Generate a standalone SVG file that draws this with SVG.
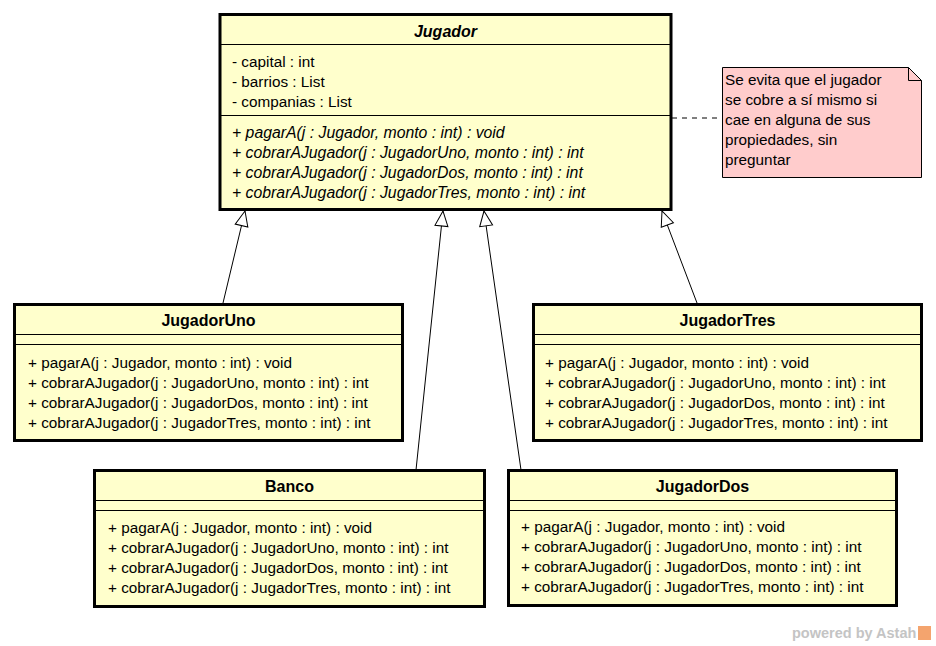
<svg xmlns="http://www.w3.org/2000/svg" width="936" height="646" viewBox="0 0 936 646">
  <defs>
    <style>
      .cls { fill: #FFFFCC; stroke: #000; stroke-width: 3; }
      .sep { stroke: #000; stroke-width: 1; }
      .title { font-family: "Liberation Sans", Arial, sans-serif; font-size: 16px; font-weight: bold; fill: #000; text-anchor: middle; }
      .abs { font-style: italic; }
      .txt { font-family: "Liberation Sans", Arial, sans-serif; font-size: 15.3px; fill: #000; }
      .it { font-style: italic; font-size: 15.8px; }
      .edge { stroke: #000; stroke-width: 1; fill: none; }
      .note { fill: #FFCCCC; stroke: #000; stroke-width: 1; }
    </style>
    <marker id="gen" viewBox="-17 -8 18 16" refX="0" refY="0" markerWidth="18" markerHeight="16" markerUnits="userSpaceOnUse" orient="auto">
      <path d="M0,0 L-15,-6.5 L-15,6.5 Z" fill="#fff" stroke="#000" stroke-width="1"/>
    </marker>
  </defs>

  <rect width="936" height="646" fill="#fff"/>

  <!-- connectors: generalizations and note anchor -->
  <g id="connectors">
    <line class="edge" x1="223" y1="303" x2="245" y2="211" marker-end="url(#gen)"/>
    <line class="edge" x1="416" y1="470" x2="443" y2="211" marker-end="url(#gen)"/>
    <line class="edge" x1="521" y1="470" x2="484" y2="211" marker-end="url(#gen)"/>
    <line class="edge" x1="697" y1="303" x2="662" y2="211" marker-end="url(#gen)"/>
    <line class="edge" x1="672" y1="118" x2="722" y2="118" stroke-dasharray="5,5"/>
  </g>

  <!-- abstract base class -->
  <g id="Jugador">
    <rect class="cls" x="220" y="14.5" width="451" height="195"/>
    <line class="sep" x1="220" y1="44.5" x2="671" y2="44.5"/>
    <line class="sep" x1="220" y1="115.5" x2="671" y2="115.5"/>
    <text class="title abs" x="445.5" y="37">Jugador</text>
    <text class="txt" x="232" y="67">- capital : int</text>
    <text class="txt" x="232" y="87">- barrios : List</text>
    <text class="txt" x="232" y="107">- companias : List</text>
    <text class="txt it" x="232" y="138">+ pagarA(j : Jugador, monto : int) : void</text>
    <text class="txt it" x="232" y="158">+ cobrarAJugador(j : JugadorUno, monto : int) : int</text>
    <text class="txt it" x="232" y="178">+ cobrarAJugador(j : JugadorDos, monto : int) : int</text>
    <text class="txt it" x="232" y="198">+ cobrarAJugador(j : JugadorTres, monto : int) : int</text>
  </g>

  <g id="nota">
    <path class="note" d="M722.5,67.5 L908.5,67.5 L921.5,80.5 L921.5,177.5 L722.5,177.5 Z"/>
    <path class="edge" d="M908.5,67.5 L908.5,80.5 L921.5,80.5"/>
    <text class="txt" x="725" y="85">Se evita que el jugador</text>
    <text class="txt" x="725" y="105">se cobre a sí mismo si</text>
    <text class="txt" x="725" y="125">cae en alguna de sus</text>
    <text class="txt" x="725" y="145">propiedades, sin</text>
    <text class="txt" x="725" y="165">preguntar</text>
  </g>

  <g id="JugadorUno">
    <rect class="cls" x="14.5" y="304.5" width="388" height="136"/>
    <line class="sep" x1="14.5" y1="334.5" x2="402.5" y2="334.5"/>
    <line class="sep" x1="14.5" y1="344.5" x2="402.5" y2="344.5"/>
    <text class="title" x="208.5" y="326">JugadorUno</text>
    <text class="txt" x="28" y="368">+ pagarA(j : Jugador, monto : int) : void</text>
    <text class="txt" x="28" y="388">+ cobrarAJugador(j : JugadorUno, monto : int) : int</text>
    <text class="txt" x="28" y="408">+ cobrarAJugador(j : JugadorDos, monto : int) : int</text>
    <text class="txt" x="28" y="428">+ cobrarAJugador(j : JugadorTres, monto : int) : int</text>
  </g>

  <g id="JugadorTres">
    <rect class="cls" x="533.5" y="304.5" width="388" height="136"/>
    <line class="sep" x1="533.5" y1="334.5" x2="921.5" y2="334.5"/>
    <line class="sep" x1="533.5" y1="344.5" x2="921.5" y2="344.5"/>
    <text class="title" x="727.5" y="326">JugadorTres</text>
    <text class="txt" x="545" y="368">+ pagarA(j : Jugador, monto : int) : void</text>
    <text class="txt" x="545" y="388">+ cobrarAJugador(j : JugadorUno, monto : int) : int</text>
    <text class="txt" x="545" y="408">+ cobrarAJugador(j : JugadorDos, monto : int) : int</text>
    <text class="txt" x="545" y="428">+ cobrarAJugador(j : JugadorTres, monto : int) : int</text>
  </g>

  <g id="Banco">
    <rect class="cls" x="94.5" y="470.5" width="390" height="136"/>
    <line class="sep" x1="94.5" y1="500.5" x2="484.5" y2="500.5"/>
    <line class="sep" x1="94.5" y1="510.5" x2="484.5" y2="510.5"/>
    <text class="title" x="289.5" y="492">Banco</text>
    <text class="txt" x="108" y="533">+ pagarA(j : Jugador, monto : int) : void</text>
    <text class="txt" x="108" y="553">+ cobrarAJugador(j : JugadorUno, monto : int) : int</text>
    <text class="txt" x="108" y="573">+ cobrarAJugador(j : JugadorDos, monto : int) : int</text>
    <text class="txt" x="108" y="593">+ cobrarAJugador(j : JugadorTres, monto : int) : int</text>
  </g>

  <g id="JugadorDos">
    <rect class="cls" x="508.5" y="470.5" width="388" height="135"/>
    <line class="sep" x1="508.5" y1="500.5" x2="896.5" y2="500.5"/>
    <line class="sep" x1="508.5" y1="510.5" x2="896.5" y2="510.5"/>
    <text class="title" x="702.5" y="492">JugadorDos</text>
    <text class="txt" x="521" y="532">+ pagarA(j : Jugador, monto : int) : void</text>
    <text class="txt" x="521" y="552">+ cobrarAJugador(j : JugadorUno, monto : int) : int</text>
    <text class="txt" x="521" y="572">+ cobrarAJugador(j : JugadorDos, monto : int) : int</text>
    <text class="txt" x="521" y="592">+ cobrarAJugador(j : JugadorTres, monto : int) : int</text>
  </g>

  <!-- tool watermark -->
  <g id="watermark">
    <text x="792" y="638" font-family="Liberation Sans, Arial, sans-serif" font-size="14.5" font-weight="bold" fill="#C4C4C4">powered by Astah</text>
    <rect x="918" y="626" width="13" height="14" fill="#F4A46E"/>
  </g>
</svg>
